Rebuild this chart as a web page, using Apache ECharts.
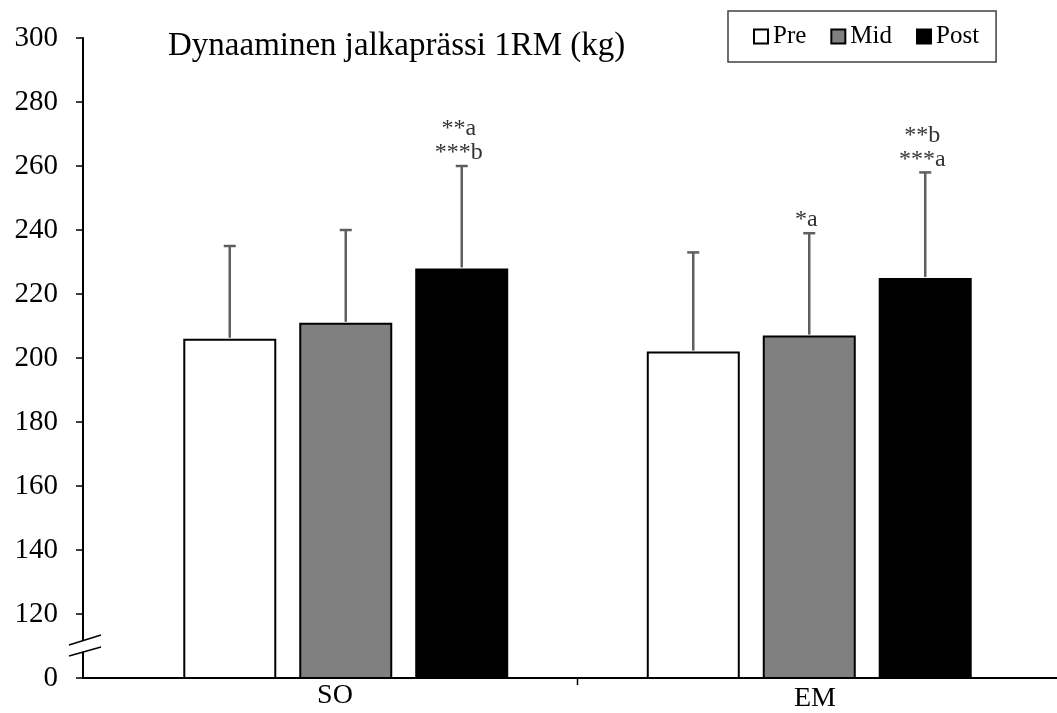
<!DOCTYPE html>
<html><head><meta charset="utf-8">
<script src="https://cdn.jsdelivr.net/npm/echarts@6/dist/echarts.min.js"></script>
<style>html,body{margin:0;padding:0;background:#fff}#c{width:1057px;height:713px}</style>
</head><body><div id="c"></div>
<script>
// ---- data ----
const categories = ['SO', 'EM'];
const seriesNames = ['Pre', 'Mid', 'Post'];
const preMean = [206, 202];
const midMean = [211, 207];
const postMean = [228, 225];
const preSD = [29, 31];
const midSD = [29, 32];
const postSD = [32, 33];
const preNotes = ['', ''];
const midNotes = ['', '*a'];
const postNotes = ['**a\n***b', '**b\n***a'];
const yMin = 100, yMax = 300, yStep = 20;      // axis is broken: 100 is shown as 0
const brokenLabel = '0';
const titleText = 'Dynaaminen jalkaprässi 1RM (kg)';

// ---- style ----
const FONT = '"Liberation Serif", "Times New Roman", serif';
const BAR_W = 93, BAR_GAP = 23;
const fills = ['#ffffff', '#808080', '#000000'];

const means = [preMean, midMean, postMean];
const sds = [preSD, midSD, postSD];
const notes = [preNotes, midNotes, postNotes];

const errData = [], errNotes = [];
for (let s = 0; s < 3; s++) {
  for (let c = 0; c < categories.length; c++) {
    errData.push([c, s, means[s][c], sds[s][c]]);
    errNotes.push(notes[s][c]);
  }
}

const chart = echarts.init(document.getElementById('c'), null, {renderer: 'canvas'});

const gridTop = 38, gridBottom = 35;
const yHidden = (gi) => ({gridIndex: gi, type: 'value', min: yMin, max: yMax, interval: yStep, show: false});

const option = {
  backgroundColor: '#fff',
  animation: false,
  title: {
    text: titleText, left: 163, top: 25,
    textStyle: {fontFamily: FONT, fontSize: 33, fontWeight: 'normal', color: '#000'}
  },
  legend: {
    data: seriesNames, left: 728, top: 11,
    icon: 'rect', itemWidth: 14, itemHeight: 14, itemGap: 24,
    padding: [13, 17, 13, 25],
    borderColor: '#404040', borderWidth: 1.5,
    textStyle: {fontFamily: FONT, fontSize: 25, color: '#000'},
    itemStyle: {borderColor: '#000', borderWidth: 2}
  },
  grid: [
    {left: 83, right: 0, top: gridTop, bottom: gridBottom},
    {left: 95, width: 960, top: gridTop, bottom: gridBottom},
    {left: 114, width: 927, top: gridTop, bottom: gridBottom}
  ],
  xAxis: [
    {gridIndex: 0, type: 'category', data: ['', ''], boundaryGap: false, z: 10,
     axisLine: {lineStyle: {color: '#000', width: 2}},
     axisTick: {show: false}, axisLabel: {show: false}, splitLine: {show: false}},
    {gridIndex: 1, type: 'category', data: categories, boundaryGap: true,
     axisLine: {show: false}, axisTick: {show: false}, splitLine: {show: false},
     axisLabel: {margin: 13, fontFamily: FONT, fontSize: 28, color: '#000',
       formatter: (v, i) => i === 1 ? '{d|' + v + '}' : v,
       rich: {d: {fontFamily: FONT, fontSize: 28, color: '#000', padding: [3, 0, 0, 0]}}}},
    {gridIndex: 2, type: 'category', data: categories, boundaryGap: true, show: false}
  ],
  yAxis: [
    {gridIndex: 0, type: 'value', min: yMin, max: yMax, interval: yStep, z: 10,
     axisLine: {show: true, lineStyle: {color: '#000', width: 2}},
     axisTick: {show: true, length: 7, lineStyle: {color: '#000', width: 1.5}},
     splitLine: {show: false},
     axisLabel: {margin: 25, fontFamily: FONT, fontSize: 29, color: '#000',
       formatter: (v) => v === yMin ? brokenLabel : String(v)}},
    yHidden(1), yHidden(2)
  ],
  series: seriesNames.map((name, s) => ({
    name, type: 'bar', xAxisIndex: 2, yAxisIndex: 2,
    data: means[s], barWidth: BAR_W, barGap: (BAR_GAP / BAR_W * 100).toFixed(1) + '%',
    itemStyle: {color: fills[s], borderColor: '#000', borderWidth: 2},
    z: 2
  })).concat([{
    type: 'custom', xAxisIndex: 2, yAxisIndex: 2, data: errData, z: 5, clip: false,
    renderItem: function (params, api) {
      const c = api.value(0), s = api.value(1), m = api.value(2), sd = api.value(3);
      const p0 = api.coord([c, m]);
      const p1 = api.coord([c, m + sd]);
      const x = p0[0] + (s - 1) * (BAR_W + BAR_GAP);
      const ls = {stroke: '#5f5f5f', lineWidth: 2.5};
      const children = [
        {type: 'line', shape: {x1: x, y1: p0[1] - 1, x2: x, y2: p1[1]}, style: ls},
        {type: 'line', shape: {x1: x - 6, y1: p1[1], x2: x + 6, y2: p1[1]}, style: ls}
      ];
      const note = errNotes[params.dataIndex];
      if (note) {
        children.push({type: 'text', x: x - 3, y: p1[1] - 1,
          style: {text: note, textAlign: 'center', textVerticalAlign: 'bottom',
            font: '24px ' + FONT, fill: '#333', lineHeight: 24}});
      }
      return {type: 'group', children};
    }
  }])
};
chart.setOption(option);

// axis decorations: break mark on the y axis and the tick between the two groups
const bx = chart.convertToPixel({xAxisIndex: 0}, 0);
const by = chart.convertToPixel({yAxisIndex: 0}, yMin + yStep / 2);
const by0 = chart.convertToPixel({yAxisIndex: 0}, yMin);
const tx = (chart.convertToPixel({xAxisIndex: 2}, 0) + chart.convertToPixel({xAxisIndex: 2}, 1)) / 2;
chart.setOption({
  graphic: [
    {type: 'polygon', z: 100, shape: {points: [[bx - 4, by - 4], [bx + 4, by - 7], [bx + 4, by + 4], [bx - 4, by + 7]]}, style: {fill: '#fff'}},
    {type: 'line', z: 101, shape: {x1: bx - 14, y1: by - 1, x2: bx + 18, y2: by - 11}, style: {stroke: '#000', lineWidth: 1.5}},
    {type: 'line', z: 101, shape: {x1: bx - 14, y1: by + 10, x2: bx + 18, y2: by + 1}, style: {stroke: '#000', lineWidth: 1.5}},
    {type: 'line', z: 101, shape: {x1: tx, y1: by0, x2: tx, y2: by0 + 7}, style: {stroke: '#000', lineWidth: 1.5}}
  ]
});
</script>
</body></html>
